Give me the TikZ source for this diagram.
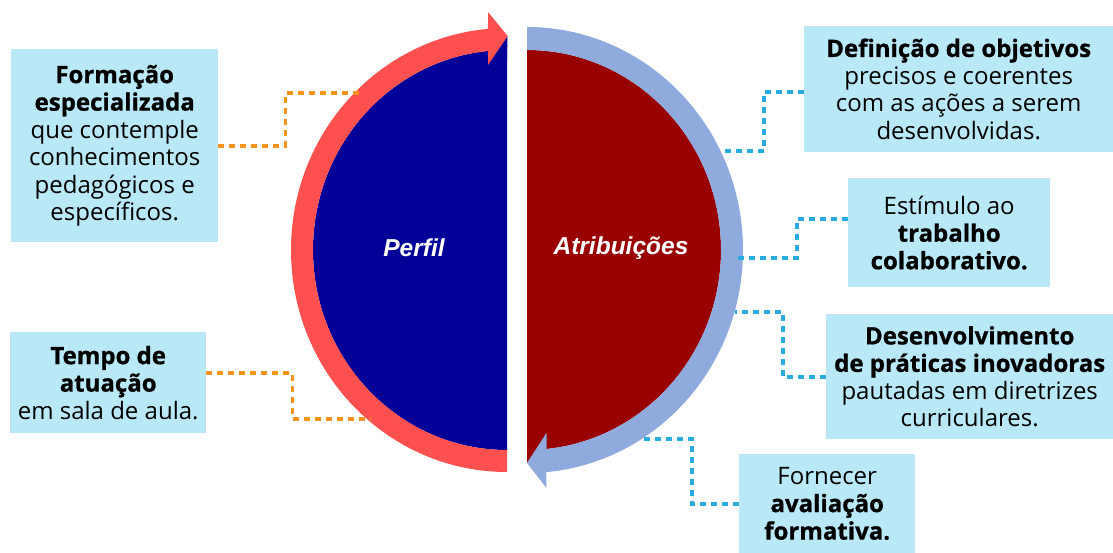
\documentclass[tikz,border=0pt]{standalone}
\usepackage{fontspec}
\setmainfont{Open Sans}[BoldFeatures={FakeBold=0.8}]
\newfontfamily\labelfont{Liberation Sans}
\usetikzlibrary{calc}
\definecolor{boxfill}{RGB}{185,232,247}
\definecolor{dotorange}{RGB}{247,148,29}
\definecolor{dotblue}{RGB}{41,171,226}
\definecolor{arrowred}{RGB}{255,80,80}
\definecolor{arrowblue}{RGB}{143,170,220}
\definecolor{halfnavy}{RGB}{0,0,153}
\definecolor{halfred}{RGB}{153,0,0}
\begin{document}
\begin{tikzpicture}[x=1pt,y=-1pt,
  infobox/.style={fill=boxfill, inner sep=0pt, align=center, anchor=north west,
    font=\fontsize{24}{27.5}\selectfont},
  odots/.style={draw=dotorange, line width=3.8pt, dash pattern=on 6pt off 5pt},
  bdots/.style={draw=dotblue, line width=3.8pt, dash pattern=on 6pt off 5pt},
  halflabel/.style={font=\labelfont\bfseries\itshape\fontsize{24.5}{28}\selectfont, text=white}]
\useasboundingbox (0,0) rectangle (1113,553);

% left half: navy half-disc with the red circular arrow around it
\begin{scope}[shift={(507,250)}]
  \fill[halfnavy] (0,-200) arc[start angle=90, end angle=270, x radius=194pt, y radius=200pt] -- cycle;
  \fill[halfnavy] (0.5,-214) -- (-21,-184) -- (0,-190) -- cycle;
  \fill[arrowred] (0,222)
    arc[start angle=-90, end angle=-264.95, x radius=216pt, y radius=222pt]
    -- (-19,-238) -- (0.7,-214) -- (-19,-185)
    -- (-264.4:194pt and 200pt)
    arc[start angle=-264.4, end angle=-90, x radius=194pt, y radius=200pt]
    -- cycle;
\end{scope}

% right half: dark red half-disc with the blue circular arrow around it
\begin{scope}[shift={(527,250)}]
  \fill[halfred] (0,-200) arc[start angle=90, end angle=-90, x radius=194pt, y radius=200pt] -- cycle;
  \fill[halfred] (0,213) -- (21,182) -- (0,190) -- cycle;
  \fill[arrowblue] (0,-223)
    arc[start angle=90, end angle=-84.9, x radius=216pt, y radius=223pt]
    -- (19.5,238) -- (0,213) -- (19.5,183)
    -- (-84.23:194pt and 200pt)
    arc[start angle=-84.23, end angle=90, x radius=194pt, y radius=200pt]
    -- cycle;
\end{scope}

\node[halflabel] (perfil) at (414,248) {Perfil};
\node[halflabel] (atrib) at (621,248) {Atribuições};

% text boxes
\node[infobox, minimum width=207pt, minimum height=193pt] (box1) at (11,49)
  {\textbf{Formação}\\\textbf{especializada}\\que contemple\\conhecimentos\\pedagógicos e\\específicos.};
\node[infobox, minimum width=196pt, minimum height=101pt] (box2) at (10,332)
  {\textbf{Tempo de}\\\textbf{atuação}\\em sala de aula.};
\node[infobox, minimum width=309pt, minimum height=126pt] (box3) at (804,26)
  {\textbf{Definição de objetivos}\\precisos e coerentes\\com as ações a serem\\desenvolvidas.};
\node[infobox, minimum width=202pt, minimum height=109pt] (box4) at (848,178)
  {Estímulo ao\\\textbf{trabalho}\\\textbf{colaborativo.}};
\node[infobox, minimum width=287pt, minimum height=125pt] (box5) at (826,314)
  {\textbf{Desenvolvimento}\\\textbf{de práticas inovadoras}\\pautadas em diretrizes\\curriculares.};
\node[infobox, minimum width=176pt, minimum height=99pt] (box6) at (739,454)
  {Fornecer\\\textbf{avaliação}\\\textbf{formativa.}};

% ends of the dotted leaders on the arrows
\coordinate (t1) at (360,93);
\coordinate (t2) at (370,419);
\coordinate (t3) at (722,151);
\coordinate (t4) at (738,258);
\coordinate (t5) at (735,312);
\coordinate (t6) at (640,439);

\draw[odots] (box1.east) -- ++(67,0) |- (t1);
\draw[odots] ([yshift=9.5pt]box2.east) -- ++(86,0) |- (t2);
\draw[bdots] ([yshift=-3pt]box3.west) -- ++(-40,0) |- (t3);
\draw[bdots] ([yshift=13.5pt]box4.west) -- ++(-51,0) |- (t4);
\draw[bdots] (box5.west) -- ++(-43,0) |- (t5);
\draw[bdots] (box6.west) -- ++(-47,0) |- (t6);
\end{tikzpicture}
\end{document}
